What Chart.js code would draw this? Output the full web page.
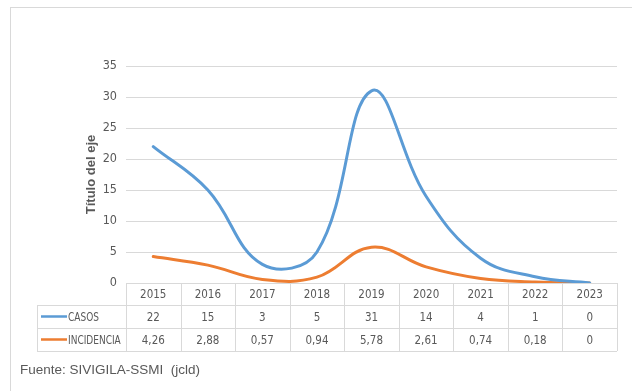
<!DOCTYPE html>
<html>
<head>
<meta charset="utf-8">
<script src="https://cdn.jsdelivr.net/npm/chart.js@4.4.1/dist/chart.umd.min.js"></script>
<style>
  html, body { margin: 0; padding: 0; background: #fff; }
  #wrap { position: relative; width: 632px; height: 391px; overflow: hidden; }
  #frame { position: absolute; left: 10px; top: 7px; width: 640px; height: 400px; border: 1px solid #d9d9d9; box-sizing: border-box; }
  #chart { position: absolute; left: 0; top: 0; }
  #fuente { position: absolute; left: 20px; top: 362px; font: 13.5px "Liberation Sans", Arial, sans-serif; color: #595959; white-space: pre; }
</style>
</head>
<body>
<div id="wrap">
  <div id="frame"></div>
  <canvas id="chart" width="632" height="391"></canvas>
  <div id="fuente">Fuente: SIVIGILA-SSMI  (jcld)</div>
</div>
<script>
const years = ['2015', '2016', '2017', '2018', '2019', '2020', '2021', '2022', '2023'];
const casos = [22, 15, 3, 5, 31, 14, 4, 1, 0];
const incidencia = [4.26, 2.88, 0.57, 0.94, 5.78, 2.61, 0.74, 0.18, 0];
const seriesNames = ['CASOS', 'INCIDENCIA'];
const yMin = 0, yMax = 35, yStep = 5;

const colors = ['#5b9bd5', '#ed7d31'];
const textColor = '#595959';
const lineColor = '#d9d9d9';
const tableFont = '12.5px "Liberation Sans Narrow", "DejaVu Sans Condensed", sans-serif';

function fmt(v) {
  return String(v).replace('.', ',');
}

// narrow text: squeeze the glyphs a bit like the original condensed font
function narrowText(ctx, txt, x, y, k) {
  const w = ctx.measureText(txt).width;
  ctx.fillText(txt, x, y, w * k);
}

// data table under the plot, columns follow the x scale
const dataTable = {
  id: 'dataTable',
  afterDraw(chart) {
    const ctx = chart.ctx;
    const xs = chart.scales.x;
    const area = chart.chartArea;
    const colW = (area.right - area.left) / years.length;
    const top = Math.round(area.bottom);
    const rows = [top, top + 22, top + 45, top + 68];
    const labelLeft = 37;
    const px = v => Math.round(v) + 0.5;

    ctx.save();
    ctx.strokeStyle = lineColor;
    ctx.lineWidth = 1;
    ctx.beginPath();
    ctx.moveTo(area.left, px(rows[0])); ctx.lineTo(area.right, px(rows[0]));
    for (let r = 1; r < rows.length; r++) {
      ctx.moveTo(labelLeft, px(rows[r])); ctx.lineTo(area.right, px(rows[r]));
    }
    for (let i = 0; i <= years.length; i++) {
      const x = px(area.left + i * colW);
      ctx.moveTo(x, rows[0]); ctx.lineTo(x, rows[3]);
    }
    ctx.moveTo(px(labelLeft), rows[1]); ctx.lineTo(px(labelLeft), rows[3]);
    ctx.stroke();

    ctx.font = tableFont;
    ctx.fillStyle = textColor;
    ctx.textAlign = 'center';
    ctx.textBaseline = 'middle';
    const series = [casos, incidencia];
    years.forEach((y, i) => {
      const cx = xs.getPixelForValue(i);
      narrowText(ctx, y, cx, (rows[0] + rows[1]) / 2 + 1, 0.92);
      series.forEach((s, k) => {
        narrowText(ctx, fmt(s[i]), cx, (rows[k + 1] + rows[k + 2]) / 2 + 1, 0.92);
      });
    });

    ctx.textAlign = 'left';
    seriesNames.forEach((name, k) => {
      const cy = (rows[k + 1] + rows[k + 2]) / 2;
      ctx.strokeStyle = colors[k];
      ctx.lineWidth = 2.5;
      ctx.beginPath();
      ctx.moveTo(41, cy); ctx.lineTo(67, cy);
      ctx.stroke();
      narrowText(ctx, name, 68, cy + 1, 0.8);
    });
    ctx.restore();
  }
};

new Chart(document.getElementById('chart'), {
  type: 'line',
  data: {
    labels: years,
    datasets: [
      { label: seriesNames[0], data: casos, borderColor: colors[0], borderWidth: 3, pointRadius: 0, tension: 0.4, fill: false, borderCapStyle: 'round' },
      { label: seriesNames[1], data: incidencia, borderColor: colors[1], borderWidth: 3, pointRadius: 0, tension: 0.4, fill: false, borderCapStyle: 'round' }
    ]
  },
  options: {
    responsive: false,
    animation: false,
    devicePixelRatio: 1,
    layout: { padding: { left: 0, right: 15, top: 66, bottom: 108 } },
    plugins: { legend: { display: false }, tooltip: { enabled: false } },
    scales: {
      x: {
        offset: true,
        grid: { display: false, drawTicks: false },
        border: { display: false },
        ticks: { display: false },
        afterFit: s => { s.height = 0; }
      },
      y: {
        min: yMin,
        max: yMax,
        grid: { color: lineColor, drawTicks: false },
        border: { display: false },
        ticks: { stepSize: yStep, padding: 9, color: textColor, font: { family: '"Liberation Sans Narrow", "DejaVu Sans Condensed", sans-serif', size: 12.5 } },
        title: { display: true, text: 'Título del eje', color: textColor, font: { family: '"Liberation Sans", Arial, sans-serif', size: 13, weight: 'bold' }, padding: { top: 84, bottom: 0 } },
        afterFit: s => { s.width = 126; }
      }
    }
  },
  plugins: [dataTable]
});
</script>
</body>
</html>
